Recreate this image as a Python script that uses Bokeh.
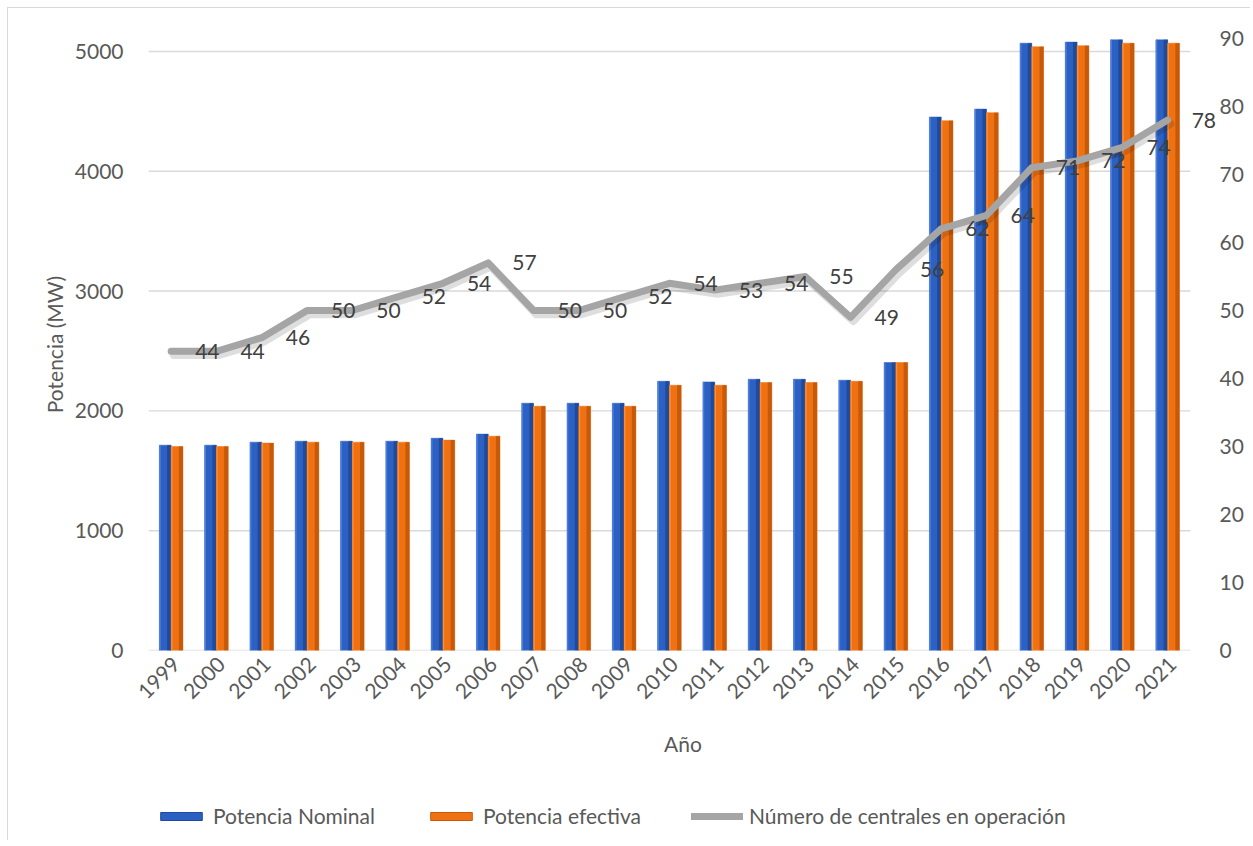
from bokeh.plotting import figure
from bokeh.layouts import column
from bokeh.models import (Range1d, LinearAxis, ColumnDataSource, Legend, LegendItem,
                          FixedTicker, LabelSet, CustomJSTickFormatter)
from bokeh.transform import dodge
from bokeh.embed import file_html
from bokeh.resources import INLINE
from bokeh.core.properties import value

# ---- data ----
years = [str(y) for y in range(1999, 2022)]
potencia_nominal = [1714, 1714, 1739, 1747, 1747, 1747, 1772, 1806, 2064, 2064, 2064, 2247,
                    2242, 2264, 2264, 2256, 2403, 4453, 4519, 5069, 5078, 5097, 5097]
potencia_efectiva = [1703, 1703, 1731, 1739, 1739, 1739, 1756, 1789, 2039, 2039, 2039, 2214,
                     2214, 2236, 2236, 2247, 2403, 4422, 4489, 5039, 5048, 5069, 5069]
centrales = [44, 44, 46, 50, 50, 52, 54, 57, 50, 50, 52, 54, 53, 54, 55, 49, 56, 62, 64,
             71, 72, 74, 78]
left_ticks = [0, 1000, 2000, 3000, 4000, 5000]
right_ticks = [0, 10, 20, 30, 40, 50, 60, 70, 80, 90]
series_names = ["Potencia Nominal", "Potencia efectiva", "Número de centrales en operación"]

FONT = "Lato"
TXT = "#595959"
FS = "21px"
BLUE, BLUE_D, BLUE_L = "#2c60c2", "#1f4b9c", "#4a7fe0"
ORANGE, ORANGE_D, ORANGE_L = "#f07112", "#c65a0b", "#ff8d33"
GREY = "#a5a5a5"

n = len(years)
idx = list(range(n))
src = ColumnDataSource(dict(x=idx, year=years, nom=potencia_nominal, efe=potencia_efectiva,
                            cen=centrales, lbl=[str(v) for v in centrales]))
grid_src = ColumnDataSource(dict(y=left_ticks, x0=[-0.5] * len(left_ticks),
                                 x1=[n - 0.5] * len(left_ticks)))

p = figure(x_range=Range1d(-0.5, n + 0.1), y_range=Range1d(0, 5108),
           width=1250, height=768, output_backend="svg", toolbar_location=None,
           min_border_left=148, min_border_right=33, min_border_top=38, min_border_bottom=118)
p.extra_y_ranges = {"right": Range1d(0, 90)}
p.outline_line_color = None
p.background_fill_color = "white"
p.border_fill_alpha = 0
p.xgrid.grid_line_color = None
p.ygrid.grid_line_color = None

# gridlines (stop at the last category, as in the original)
p.segment(x0="x0", x1="x1", y0="y", y1="y", source=grid_src, line_color="#d9d9d9",
          line_width=1.4)

# bars with a simple bevel look
BW = 0.26
p.vbar(x=dodge("x", -0.13), top="nom", width=BW, source=src,
       fill_color=BLUE, line_color=BLUE, line_width=0.5)
p.vbar(x=dodge("x", -0.045), top="nom", width=0.09, source=src,
       fill_color=BLUE_D, line_color=None)
p.vbar(x=dodge("x", -0.245), top="nom", width=0.03, source=src,
       fill_color=BLUE_L, line_color=None)
p.vbar(x=dodge("x", 0.13), top="efe", width=BW, source=src,
       fill_color=ORANGE, line_color=ORANGE, line_width=0.5)
p.vbar(x=dodge("x", 0.215), top="efe", width=0.09, source=src,
       fill_color=ORANGE_D, line_color=None)
p.vbar(x=dodge("x", 0.015), top="efe", width=0.03, source=src,
       fill_color=ORANGE_L, line_color=None)

# line with soft shadow
p.line(x=dodge("x", 0.06), y=dodge("cen", -0.55), source=src, y_range_name="right",
       line_color="black", line_alpha=0.13, line_width=8, line_cap="round",
       line_join="round")
p.line(x="x", y="cen", source=src, y_range_name="right", line_color=GREY,
       line_width=7, line_cap="round", line_join="round")
labels = LabelSet(x="x", y="cen", text="lbl", source=src, y_range_name="right",
                  x_offset=24, text_align="left", text_baseline="middle",
                  text_color="#404040", text_font=value(FONT), text_font_size=FS)
p.add_layout(labels)

# axes
xa = p.xaxis[0]
xa.ticker = FixedTicker(ticks=[i + 0.11 for i in idx])
xa.formatter = CustomJSTickFormatter(args=dict(years=years),
                                     code="return years[Math.round(tick - 0.11)]")
xa.axis_line_color = None
xa.major_tick_line_color = None
xa.minor_tick_line_color = None
xa.major_label_orientation = 0.785398
xa.major_label_text_font = FONT
xa.major_label_text_font_size = FS
xa.major_label_text_color = TXT
xa.major_label_standoff = 4
xa.axis_label = "Año"
xa.axis_label_text_font = FONT
xa.axis_label_text_font_size = FS
xa.axis_label_text_font_style = "normal"
xa.axis_label_text_color = TXT
xa.axis_label_standoff = 22

ya = p.yaxis[0]
ya.ticker = FixedTicker(ticks=left_ticks)
ya.axis_line_color = None
ya.major_tick_line_color = None
ya.minor_tick_line_color = None
ya.major_label_text_font = FONT
ya.major_label_text_font_size = FS
ya.major_label_text_color = TXT
ya.major_label_standoff = 19
ya.axis_label = "Potencia (MW)"
ya.axis_label_text_font = FONT
ya.axis_label_text_font_size = FS
ya.axis_label_text_font_style = "normal"
ya.axis_label_text_color = TXT
ya.axis_label_standoff = 5

ra = LinearAxis(y_range_name="right", ticker=FixedTicker(ticks=right_ticks))
ra.axis_line_color = None
ra.major_tick_line_color = None
ra.minor_tick_line_color = None
ra.major_label_text_font = FONT
ra.major_label_text_font_size = FS
ra.major_label_text_color = TXT
ra.major_label_standoff = -4
p.add_layout(ra, "right")

# ---- legend strip below the chart (hidden proxy renderers, legend only) ----
lg = figure(width=1250, height=72, output_backend="svg", toolbar_location=None,
            x_range=Range1d(-0.5, n + 0.1), y_range=Range1d(-2, -1),
            x_axis_location=None, y_axis_location=None,
            min_border_left=0, min_border_right=0, min_border_top=0, min_border_bottom=0)
lg.outline_line_color = None
lg.background_fill_alpha = 0
lg.border_fill_alpha = 0
lg.xgrid.visible = False
lg.ygrid.visible = False
r1 = lg.vbar(x="x", top="nom", width=BW, source=src, fill_color=BLUE, line_color=BLUE_D,
             visible=False)
r2 = lg.vbar(x="x", top="efe", width=BW, source=src, fill_color=ORANGE, line_color=ORANGE_D,
             visible=False)
r3 = lg.line(x="x", y="cen", source=src, line_color=GREY, line_width=7, line_cap="round",
             visible=False)
legend = Legend(items=[LegendItem(label=series_names[0], renderers=[r1]),
                       LegendItem(label=series_names[1], renderers=[r2]),
                       LegendItem(label=series_names[2], renderers=[r3])],
                orientation="horizontal", location=(7, 12), spacing=50,
                glyph_width=52, glyph_height=10, label_standoff=6, padding=0, margin=0,
                border_line_color=None, background_fill_alpha=0, inactive_fill_alpha=0,
                label_text_font=FONT, label_text_font_size=FS, label_text_color=TXT)
lg.add_layout(legend, "center")

frame_bg = ("linear-gradient(#d9d9d9,#d9d9d9) 7px 7px / 1px 100% no-repeat, "
            "linear-gradient(#d9d9d9,#d9d9d9) 7px 7px / 100% 1px no-repeat, white")
layout = column(p, lg, spacing=0, styles={"background": frame_bg})
open("out.html", "w").write(file_html(layout, INLINE))
